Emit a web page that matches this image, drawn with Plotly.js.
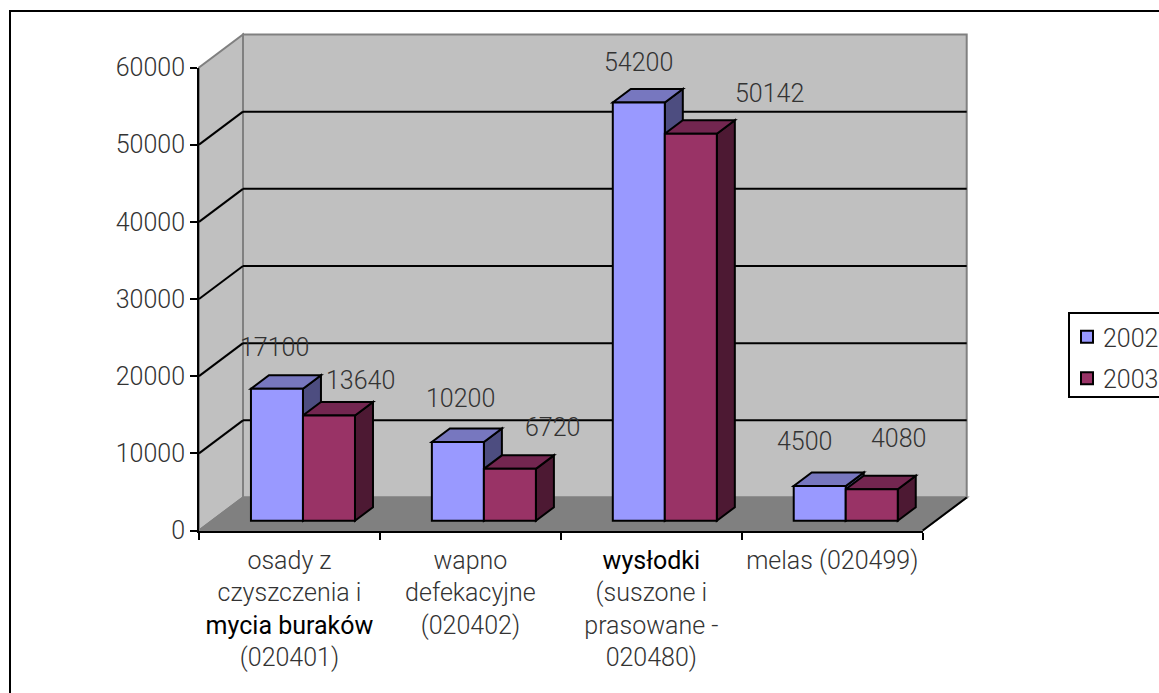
<!DOCTYPE html>
<html>
<head>
<meta charset="utf-8">
<script src="https://cdn.plot.ly/plotly-3.0.1.min.js"></script>
<style>
html,body{margin:0;padding:0;background:#fff;overflow:hidden;width:1159px;height:693px}
#chart{width:1200px;height:693px}
.legendtext{transform:translateX(-7px)}
.legend .legendsymbols{transform:translateX(-3px)}
.legend rect.bg{height:84px}
</style>
</head>
<body>
<div id="chart"></div>
<script>
// Waste quantities per category, years 2002 and 2003
const categories = [
  'osady z<br>czyszczenia i<br><span style="color:#000;font-weight:400">mycia buraków</span><br>(020401)',
  'wapno<br>defekacyjne<br>(020402)',
  '<span style="color:#000;font-weight:400">wysłodki</span><br>(suszone i<br>prasowane -<br>020480)',
  'melas (020499)'
];
const series2002 = [17100, 10200, 54200, 4500];
const series2003 = [13640, 6720, 50142, 4080];
const yTicks = [0, 10000, 20000, 30000, 40000, 50000, 60000];

// The canvas runs past the window on the right, so the legend box is cut by the page edge
const W = 1200, H = 693;
const px = v => v / W;
const py = v => 1 - v / H;

// Pseudo-3D box: pixel geometry of the front plane and the depth offsets
const frontL = 199, frontR = 922.7, frontB = 530.5, frontT = 67.5;
const unitX = (frontR - frontL) / 4;           // pixels per category
const unitY = (frontB - frontT) / 60000;       // pixels per value unit
const wallDx = 44 / unitX, wallDy = 33 / unitY;
const barDx = 18 / unitX, barDy = 13.5 / unitY;
const barOriginX = frontL + 13.5, barBase = 520.7;

const ink = '#333333', edge = '#808080';
const font = {family: 'Roboto, Liberation Sans, Arial, sans-serif', size: 25, color: ink, weight: 300};

const poly = pts => 'M' + pts.map(p => p[0] + ',' + p[1]).join('L') + 'Z';
const wall = (pts, fill, color) => ({type: 'path', xref: 'x', yref: 'y', layer: 'below', path: poly(pts),
  fillcolor: fill, line: {color: color, width: 2}});
const seg = (x0, y0, x1, y1, color) => ({type: 'line', xref: 'x', yref: 'y', layer: 'below', x0, y0, x1, y1,
  line: {color: color, width: 2}});

const L = -0.5, R = 3.5, T = 60000;
const shapes = [
  // chart frame
  {type: 'rect', xref: 'paper', yref: 'paper', x0: px(10), x1: 1.02, y0: -0.02, y1: py(11), layer: 'below',
   line: {color: '#000', width: 2}, fillcolor: '#fff'},
  // side wall, back wall, floor
  wall([[L, 0], [L + wallDx, wallDy], [L + wallDx, T + wallDy], [L, T]], '#c0c0c0', edge),
  wall([[L + wallDx, wallDy], [R + wallDx, wallDy], [R + wallDx, T + wallDy], [L + wallDx, T + wallDy]], '#c0c0c0', edge),
  wall([[L, 0], [R, 0], [R + wallDx, wallDy], [L + wallDx, wallDy]], '#808080', edge),
  seg(R, 0, R + wallDx, wallDy, '#000')
];
// Gridlines run along the side wall and across the back wall
yTicks.slice(1, -1).forEach(v => {
  shapes.push(seg(L, v, L + wallDx, v + wallDy, '#000'));
  shapes.push(seg(L + wallDx, v + wallDy, R + wallDx, v + wallDy, '#000'));
});

// Side and top faces of each bar, painted behind the front faces
const barW = 0.2875;
const face = (pts, fill) => ({type: 'path', xref: 'x3', yref: 'y3', layer: 'below', path: poly(pts),
  fillcolor: fill, line: {color: '#000', width: 2}});
const palette = [
  {front: '#9999ff', top: '#7777bf', side: '#4d4d80'},
  {front: '#993366', top: '#732650', side: '#4d1933'}
];
categories.forEach((c, i) => {
  [series2002, series2003].forEach((s, k) => {
    const l = i + (k - 1) * barW, r = l + barW, v = s[i];
    shapes.push(face([[r, 0], [r + barDx, barDy], [r + barDx, v + barDy], [r, v]], palette[k].side));
    shapes.push(face([[l, v], [r, v], [r + barDx, v + barDy], [l + barDx, v + barDy]], palette[k].top));
  });
});

// Value labels sit at hand-placed offsets from the bar tops
const shift2002 = [[-2, 41], [2.5, 43], [0, 40], [-15, 44]];
const shift2003 = [[31.5, 35], [43, 41], [79, 40], [27, 51]];
const annotations = [];
[[series2002, shift2002, -0.5], [series2003, shift2003, 0.5]].forEach(([s, sh, side]) => {
  s.forEach((v, i) => annotations.push({
    xref: 'x3', yref: 'y3', x: i + side * barW, y: v, text: String(v), showarrow: false,
    xshift: sh[i][0], yshift: sh[i][1], font: font, xanchor: 'center', yanchor: 'middle'
  }));
});

const idx = categories.map((c, i) => i);
const bar = (name, y, col) => ({
  type: 'bar', name: name, legendgroup: name, x: idx, y: y, xaxis: 'x3', yaxis: 'y3',
  marker: {color: col, line: {color: '#000', width: 2}}, hoverinfo: 'x+y'
});

const traces = [
  // carriers that bring the backdrop and the visible axes into being
  {type: 'scatter', mode: 'lines', x: [0, 1], y: [0, 0], xaxis: 'x', yaxis: 'y', showlegend: false,
   hoverinfo: 'skip', line: {color: 'rgba(0,0,0,0)'}},
  {type: 'scatter', mode: 'lines', x: categories, y: series2002, xaxis: 'x2', yaxis: 'y2', showlegend: false,
   hoverinfo: 'skip', line: {color: 'rgba(0,0,0,0)'}},
  bar('2002', series2002, palette[0].front),
  bar('2003', series2003, palette[1].front)
];

const hidden = {visible: false, fixedrange: true, showgrid: false, zeroline: false};
const domainX = (a, b) => [px(a), px(b)];
const domainY = (top, bottom) => [py(bottom), py(top)];

const layout = {
  width: W, height: H,
  margin: {l: 0, r: 0, t: 0, b: 0},
  paper_bgcolor: '#fff', plot_bgcolor: 'rgba(0,0,0,0)',
  font: font,
  bargap: 0.425, bargroupgap: 0, barmode: 'group',
  shapes: shapes, annotations: annotations,
  legend: {x: px(1068), y: py(312), xanchor: 'left', yanchor: 'top', bgcolor: '#fff',
    bordercolor: '#000', borderwidth: 2, font: font, tracegroupgap: 6},
  // backdrop axes: walls and floor
  xaxis: Object.assign({}, hidden, {type: 'linear', anchor: 'y', domain: domainX(190, 975),
    range: [L - 9 / unitX, L + (975 - frontL) / unitX]}),
  yaxis: Object.assign({}, hidden, {type: 'linear', anchor: 'x', domain: domainY(25, 535),
    range: [-(535 - frontB) / unitY, (frontB - 25) / unitY]}),
  // visible axes along the front plane
  xaxis2: {type: 'category', categoryorder: 'array', categoryarray: categories, anchor: 'y2',
    domain: domainX(frontL, frontR), range: [L, R], tickson: 'boundaries', ticks: 'outside', ticklen: 7,
    tickwidth: 2, tickcolor: '#000', showline: true, linecolor: '#000', linewidth: 2, showgrid: false,
    zeroline: false, fixedrange: true, tickangle: 0, tickfont: font, ticklabelstandoff: 6},
  yaxis2: {type: 'linear', anchor: 'x2', domain: domainY(frontT, frontB), range: [0, T],
    tickmode: 'array', tickvals: yTicks, ticktext: yTicks.map(String), ticks: 'outside', ticklen: 7,
    tickwidth: 2, tickcolor: '#000', showline: true, linecolor: '#000', linewidth: 2, showgrid: false,
    zeroline: false, fixedrange: true, tickfont: font},
  // bar axes: same scales as the front plane, pushed into the depth of the box
  xaxis3: Object.assign({}, hidden, {type: 'linear', anchor: 'y3', domain: domainX(205, 975),
    range: [L + (205 - barOriginX) / unitX, L + (975 - barOriginX) / unitX]}),
  yaxis3: Object.assign({}, hidden, {type: 'linear', anchor: 'x3', domain: domainY(25, 530),
    range: [-(530 - barBase) / unitY, (barBase - 25) / unitY]})
};

Plotly.newPlot('chart', traces, layout, {displayModeBar: false, responsive: false});
</script>
</body>
</html>
